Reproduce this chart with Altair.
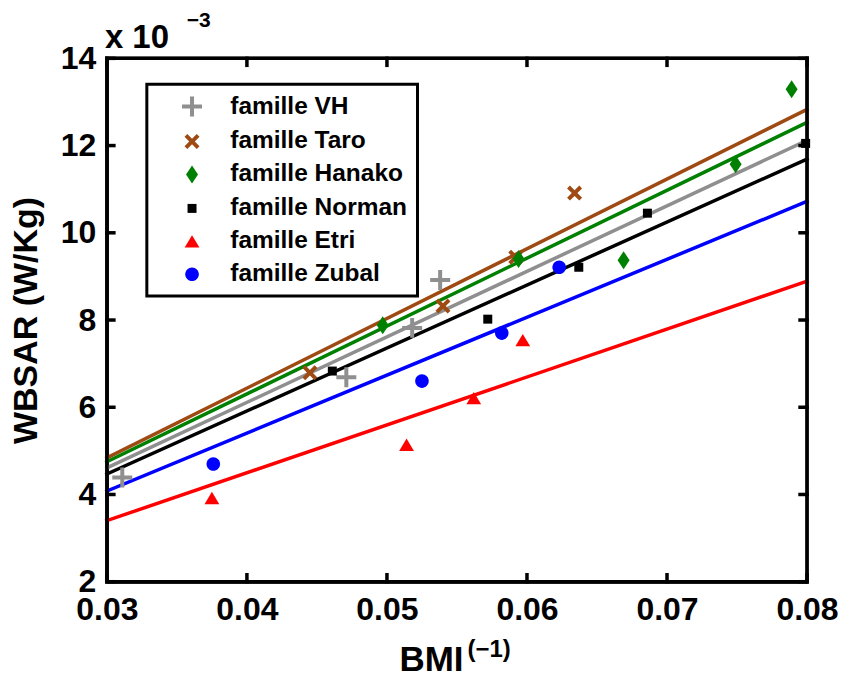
import altair as alt
import pandas as pd

FONT = "Liberation Sans"

families = ["famille VH", "famille Taro", "famille Hanako",
            "famille Norman", "famille Etri", "famille Zubal"]
colors = ["#8F8F8F", "#9E4A12", "#008000", "#000000", "#FF0000", "#0000FF"]

# measured points (x = BMI^-1, y = WBSAR in units of 1e-3 W/kg)
vh_x = [0.0311, 0.0471, 0.0518, 0.0538]
vh_y = [4.39, 6.69, 7.82, 8.92]
taro_x = [0.0445, 0.0540, 0.0592, 0.0634]
taro_y = [6.79, 8.32, 9.44, 10.91]
hanako_x = [0.0497, 0.0594, 0.0669, 0.0749, 0.0789]
hanako_y = [7.88, 9.40, 9.37, 11.57, 13.29]
norman_x = [0.0461, 0.0572, 0.0637, 0.0686, 0.0799]
norman_y = [6.83, 8.02, 9.21, 10.45, 12.05]
etri_x = [0.0375, 0.0514, 0.0562, 0.0597]
etri_y = [3.92, 5.14, 6.21, 7.54]
zubal_x = [0.0376, 0.0525, 0.0582, 0.0623]
zubal_y = [4.70, 6.60, 7.70, 9.21]

# fitted lines, read at both ends of the x range
fit_x = [0.03, 0.08]
fit_start = [4.61, 4.84, 4.75, 4.47, 3.40, 4.08]
fit_end = [12.12, 12.83, 12.53, 11.69, 8.89, 10.72]

x_ticks = [0.03, 0.04, 0.05, 0.06, 0.07, 0.08]
y_ticks = [2, 4, 6, 8, 10, 12, 14]

# marker outlines inside a [-1, 1] box (all drawn at the same symbol size)
plus_path = "M-1,-0.2H-0.2V-1H0.2V-0.2H1V0.2H0.2V1H-0.2V0.2H-1Z"
x_path = ("M-0.75,-0.47L-0.47,-0.75L0,-0.28L0.47,-0.75L0.75,-0.47L0.28,0"
          "L0.75,0.47L0.47,0.75L0,0.28L-0.47,0.75L-0.75,0.47L-0.28,0Z")
diamond_path = "M0,-0.9L0.6,0L0,0.9L-0.6,0Z"
square_path = "M-0.45,-0.45H0.45V0.45H-0.45Z"
tri_path = "M0,-0.62L0.74,0.62L-0.74,0.62Z"
circle_path = "M-0.68,0A0.68,0.68 0 1,0 0.68,0A0.68,0.68 0 1,0 -0.68,0Z"
shapes = [plus_path, x_path, diamond_path, square_path, tri_path, circle_path]

series = [(vh_x, vh_y), (taro_x, taro_y), (hanako_x, hanako_y),
          (norman_x, norman_y), (etri_x, etri_y), (zubal_x, zubal_y)]
pts = pd.DataFrame([{"family": f, "x": x, "y": y}
                    for f, (xs_, ys_) in zip(families, series)
                    for x, y in zip(xs_, ys_)])

W, H = 701, 524
XD = [0.03, 0.08]
YD = [2, 14]

# one table of polylines: fit lines, the top/right box edges and inward ticks
rows = []
for f, s, e in zip(families, fit_start, fit_end):
    rows += [{"family": f, "seg": f, "o": 0, "x": fit_x[0], "y": s},
             {"family": f, "seg": f, "o": 1, "x": fit_x[1], "y": e}]
box_x = [XD[0], XD[1], XD[1], XD[0], XD[0]]
box_y = [YD[0], YD[0], YD[1], YD[1], YD[0]]
for i, (bx, by) in enumerate(zip(box_x, box_y)):
    rows.append({"family": "axes", "seg": "box", "o": i, "x": bx, "y": by})
tx = 7 * (YD[1] - YD[0]) / H
ty = 7 * (XD[1] - XD[0]) / W
for v in x_ticks:
    rows += [{"family": "axes", "seg": f"b{v}", "o": 0, "x": v, "y": YD[0]},
             {"family": "axes", "seg": f"b{v}", "o": 1, "x": v, "y": YD[0] + tx},
             {"family": "axes", "seg": f"t{v}", "o": 0, "x": v, "y": YD[1]},
             {"family": "axes", "seg": f"t{v}", "o": 1, "x": v, "y": YD[1] - tx}]
for v in y_ticks:
    rows += [{"family": "axes", "seg": f"l{v}", "o": 0, "x": XD[0], "y": v},
             {"family": "axes", "seg": f"l{v}", "o": 1, "x": XD[0] + ty, "y": v},
             {"family": "axes", "seg": f"r{v}", "o": 0, "x": XD[1], "y": v},
             {"family": "axes", "seg": f"r{v}", "o": 1, "x": XD[1] - ty, "y": v}]
lines = pd.DataFrame(rows)

xs = alt.Scale(domain=XD, nice=False, zero=False)
ys = alt.Scale(domain=YD, nice=False, zero=False)
cscale = alt.Scale(domain=families, range=colors)
sscale = alt.Scale(domain=families + ["axes"], range=colors + ["#000000"])

X = alt.X("x:Q", scale=xs, title=None,
          axis=alt.Axis(values=x_ticks, format=".2f", labelPadding=13, tickSize=0,
                        labelFlush=False))
Y = alt.Y("y:Q", scale=ys, title="WBSAR (W/Kg)",
          axis=alt.Axis(values=y_ticks, format="d", labelPadding=11, tickSize=0,
                        titleX=-80, titleY=H / 2, titleAngle=270,
                        titleAlign="center", titleBaseline="middle",
                        titleFont=FONT, titleFontWeight="bold", titleFontSize=34,
                        titleColor="black"))

line_layer = alt.Chart(lines).mark_line(strokeWidth=3.5, strokeCap="square").encode(
    x=X, y=Y,
    stroke=alt.Stroke("family:N", scale=sscale, legend=None),
    detail="seg:N",
    order="o:Q",
)

pt_layer = alt.Chart(pts).mark_point(filled=True, opacity=1, size=400).encode(
    x=alt.X("x:Q", scale=xs),
    y=alt.Y("y:Q", scale=ys),
    color=alt.Color("family:N", scale=cscale, title=None),
    shape=alt.Shape("family:N", scale=alt.Scale(domain=families, range=shapes),
                    title=None),
)

one = pd.DataFrame({"a": [0]})
def label(txt, x, y, size, align="left"):
    return alt.Chart(one).mark_text(
        text=txt, font=FONT, fontWeight="bold", fontSize=size,
        align=align, baseline="alphabetic", color="black").encode(
        x=alt.value(x), y=alt.value(y))

texts = [
    label("BMI", 325, 613, 35, "center"),
    label("(\u22121)", 361, 599, 24),
    label("x 10", -2, -10, 33),
    label("\u22123", 80, -31, 21),
]

chart = alt.layer(line_layer, pt_layer, *texts).properties(
    width=W, height=H,
    autosize=alt.AutoSizeParams(type="none"),
    padding={"left": 99, "top": 50, "right": 33, "bottom": 95},
).configure_view(
    stroke="#000000", strokeWidth=3
).configure_axis(
    domain=True, domainColor="#000000", domainWidth=3,
    ticks=False, grid=False,
    labelFont=FONT, labelFontWeight="bold", labelFontSize=32, labelColor="black",
).configure_legend(
    orient="none", legendX=40, legendY=26,
    strokeColor="black", strokeWidth=3, fillColor="white",
    padding=10, rowPadding=8, symbolOffset=23, labelOffset=26,
    labelFont=FONT, labelFontWeight="bold", labelFontSize=24.5, labelColor="black",
    symbolSize=400, symbolOpacity=1, labelLimit=400,
)

chart.save("out.html", embed_options={"renderer": "svg", "actions": False})
